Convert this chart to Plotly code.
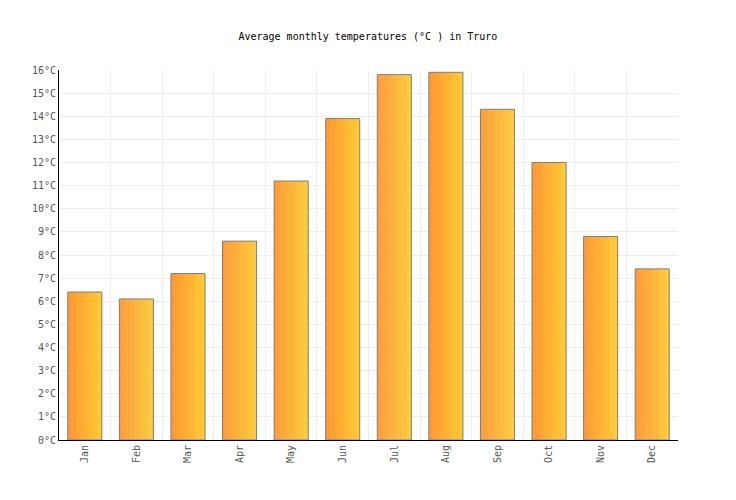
import plotly.graph_objects as go

# Températures moyennes mensuelles (°C) à Truro
mois = ["Jan", "Feb", "Mar", "Apr", "May", "Jun", "Jul", "Aug", "Sep", "Oct", "Nov", "Dec"]
temperatures = [6.4, 6.1, 7.2, 8.6, 11.2, 13.9, 15.8, 15.9, 14.3, 12.0, 8.8, 7.4]
y_ticks = list(range(0, 17))
y_labels = [f"{t}°C" for t in y_ticks]

bar_width = 0.66
n_slices = 17
left_col = (255, 152, 51)
right_col = (255, 202, 51)

fig = go.Figure()

# dégradé horizontal : plusieurs tranches de barres côte à côte
slice_w = bar_width / n_slices
for i in range(n_slices):
    t = i / (n_slices - 1)
    r = round(left_col[0] + (right_col[0] - left_col[0]) * t)
    g = round(left_col[1] + (right_col[1] - left_col[1]) * t)
    b = round(left_col[2] + (right_col[2] - left_col[2]) * t)
    fig.add_trace(go.Bar(
        x=mois,
        y=temperatures,
        width=slice_w * 1.15,
        offset=-bar_width / 2 + i * slice_w,
        marker=dict(color=f"rgb({r},{g},{b})", line_width=0),
        hoverinfo="skip",
        showlegend=False,
    ))

# contour gris des barres
fig.add_trace(go.Bar(
    x=mois,
    y=temperatures,
    width=bar_width,
    marker=dict(color="rgba(0,0,0,0)", line=dict(color="rgb(128,128,128)", width=1)),
    showlegend=False,
    hovertemplate="%{x}: %{y}°C<extra></extra>",
))

# la page ajoute 8px de marge autour du graphique
fig.update_layout(
    width=736,
    height=500,
    barmode="overlay",
    paper_bgcolor="white",
    plot_bgcolor="white",
    font=dict(family="DejaVu Sans Mono", size=10, color="#555555"),
    title=dict(
        text="Average monthly temperatures (°C ) in Truro",
        x=0.489,
        xanchor="center",
        y=0.944,
        yanchor="middle",
        font=dict(family="DejaVu Sans Mono", size=10, color="black"),
    ),
    margin=dict(l=51, r=66, t=62, b=68),
)
fig.update_xaxes(
    tickangle=-90,
    tickson="boundaries",
    showgrid=True,
    gridcolor="#eeeeee",
    gridwidth=1,
    showline=True,
    linecolor="black",
    linewidth=1,
    ticks="",
    range=[-0.5, 11.5],
)
fig.update_yaxes(
    range=[0, 16],
    tickvals=y_ticks,
    ticktext=y_labels,
    showgrid=True,
    gridcolor="#eeeeee",
    gridwidth=1,
    showline=True,
    linecolor="black",
    linewidth=1,
    zeroline=False,
    ticks="",
)

fig.write_html("out.html")
